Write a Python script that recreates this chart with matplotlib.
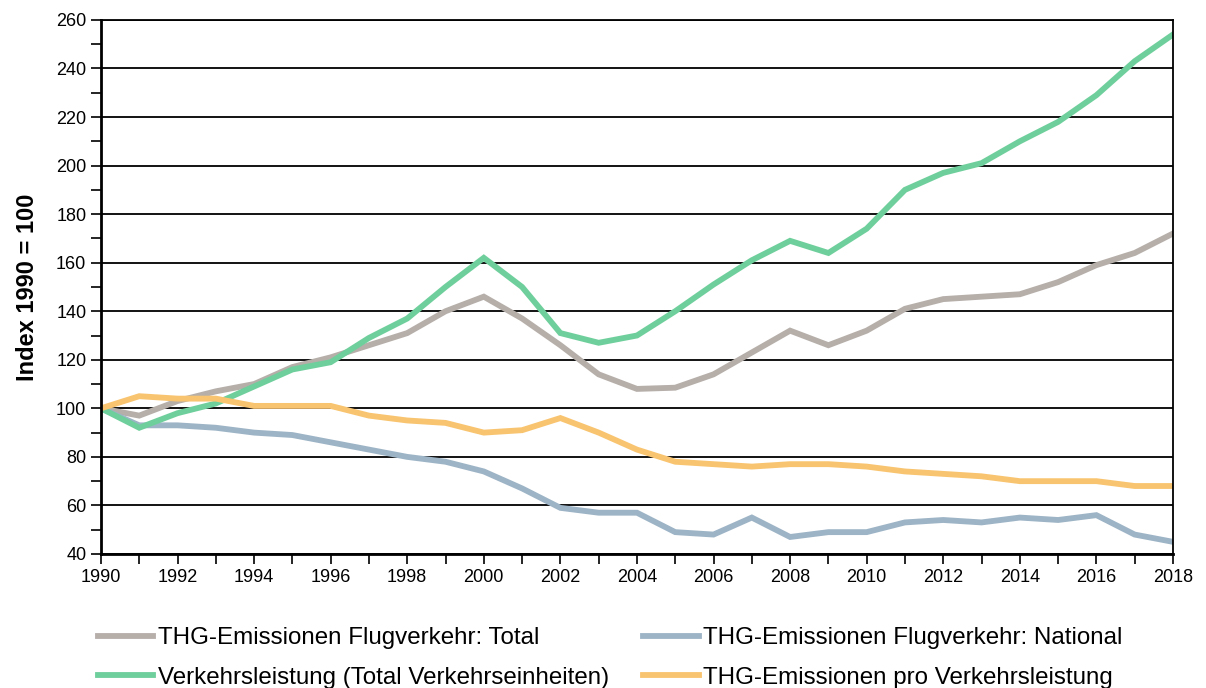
import matplotlib
matplotlib.use("Agg")
import matplotlib.pyplot as plt
from matplotlib.ticker import MultipleLocator

plt.rcParams['font.family'] = ['Liberation Sans', 'DejaVu Sans']

years = list(range(1990, 2019))

# Index 1990 = 100
total = [100, 97, 103, 107, 110, 117, 121, 126, 131, 140, 146, 137, 126, 114, 108,
         108.5, 114, 123, 132, 126, 132, 141, 145, 146, 147, 152, 159, 164, 172]
national = [100, 93, 93, 92, 90, 89, 86, 83, 80, 78, 74, 67, 59, 57, 57,
            49, 48, 55, 47, 49, 49, 53, 54, 53, 55, 54, 56, 48, 45]
leistung = [100, 92, 98, 102, 109, 116, 119, 129, 137, 150, 162, 150, 131, 127, 130,
            140, 151, 161, 169, 164, 174, 190, 197, 201, 210, 218, 229, 243, 254]
pro_leistung = [100, 105, 104, 104, 101, 101, 101, 97, 95, 94, 90, 91, 96, 90, 83,
                78, 77, 76, 77, 77, 76, 74, 73, 72, 70, 70, 70, 68, 68]

labels = ["THG-Emissionen Flugverkehr: Total",
          "THG-Emissionen Flugverkehr: National",
          "Verkehrsleistung (Total Verkehrseinheiten)",
          "THG-Emissionen pro Verkehrsleistung"]
colors = ["#b5aea9", "#9db4c6", "#6fcf9c", "#f9c46f"]

fig = plt.figure(figsize=(12.06, 6.88), dpi=100)
ax = fig.add_axes([0.0837, 0.1948, 0.8889, 0.7762])

series = [total, national, leistung, pro_leistung]
lines = []
for s, c, lab in zip(series, colors, labels):
    ln, = ax.plot(years, s, color=c, lw=4.2, label=lab, solid_joinstyle='miter')
    lines.append(ln)

ax.set_xlim(1990, 2018)
ax.set_ylim(40, 260)
ax.xaxis.set_major_locator(MultipleLocator(2))
ax.xaxis.set_minor_locator(MultipleLocator(1))
ax.yaxis.set_major_locator(MultipleLocator(20))
ax.yaxis.set_minor_locator(MultipleLocator(10))
ax.grid(True, which='major', axis='y', color='black', lw=1.3)
ax.set_axisbelow(True)
ax.tick_params(axis='both', which='both', direction='out', color='black', width=1.2)
ax.tick_params(axis='both', which='major', length=7, labelsize=13)
ax.tick_params(axis='both', which='minor', length=7)
for sp in ax.spines.values():
    sp.set_color('black')
    sp.set_linewidth(1.3)
ax.spines['left'].set_linewidth(2)
ax.spines['bottom'].set_linewidth(2)

ax.set_ylabel("Index 1990 = 100", fontsize=17, fontweight='bold', labelpad=12)

# legend: columns are (Total, Verkehrsleistung) and (National, pro Verkehrsleistung)
order = [lines[0], lines[2], lines[1], lines[3]]
fig.legend(order, [l.get_label() for l in order], ncol=2, frameon=False,
           loc='upper left', bbox_to_anchor=(0.081, 0.088), fontsize=17.4,
           handlelength=2.3, handletextpad=0.2, columnspacing=1.4,
           borderpad=0, borderaxespad=0, labelspacing=0.72)

fig.savefig("out.png", dpi=100)
